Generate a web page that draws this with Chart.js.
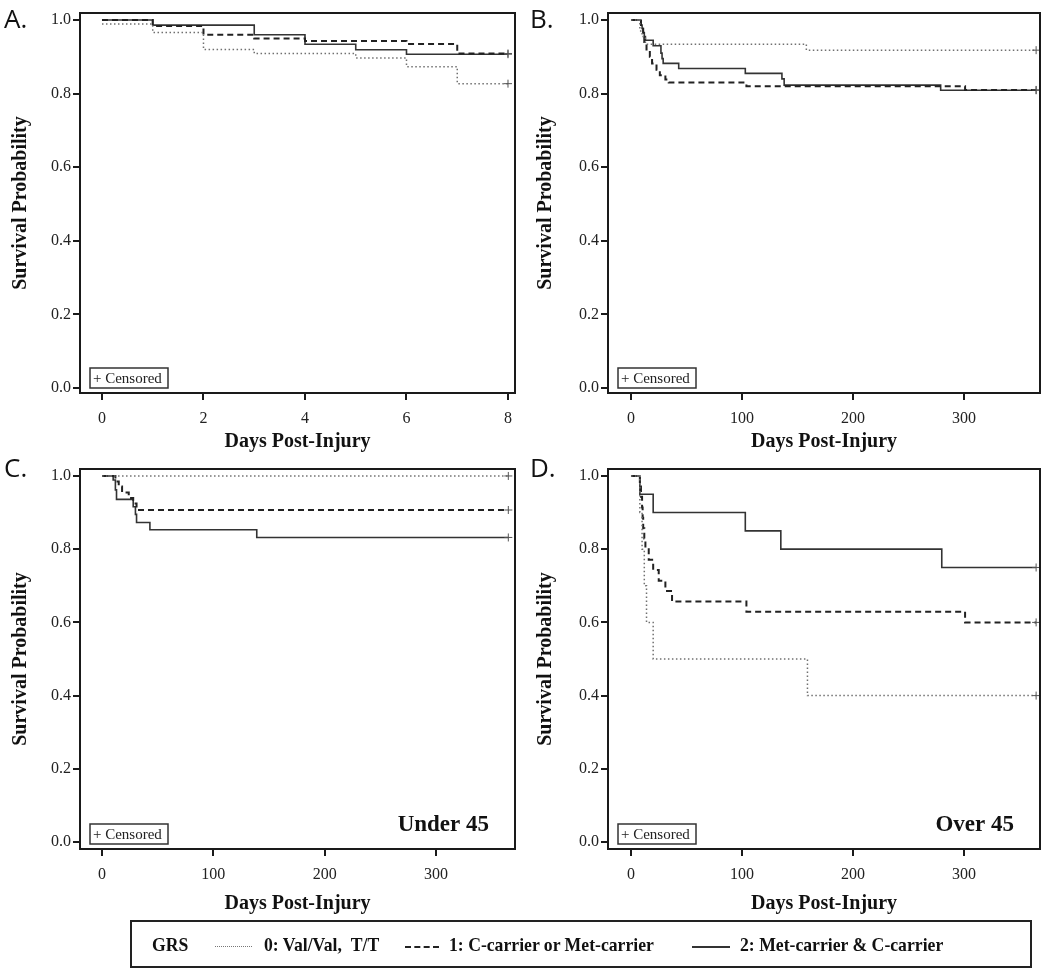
<!DOCTYPE html>
<html>
<head>
<meta charset="utf-8">
<title>Survival by GRS</title>
<script src="https://cdn.jsdelivr.net/npm/chart.js@4.4.1/dist/chart.umd.min.js"></script>
<style>
    body { margin: 0; background: #fff; width: 1050px; height: 973px; position: relative; overflow: hidden; }
    canvas { position: absolute; }
    #legend {
        position: absolute; left: 130px; top: 920px; width: 898px; height: 44px;
        border: 2px solid #222; font: bold 19px "Liberation Serif", serif; color: #111;
    }
    #legend span { position: absolute; top: 12px; white-space: nowrap; transform: scaleX(0.93); transform-origin: left center; }
    #legend i { position: absolute; top: 24px; height: 0; }
</style>
</head>
<body>
<canvas id="panel-a" width="525" height="465" style="left:0;top:0"></canvas>
<canvas id="panel-b" width="525" height="465" style="left:525px;top:0"></canvas>
<canvas id="panel-c" width="525" height="480" style="left:0;top:450px"></canvas>
<canvas id="panel-d" width="525" height="480" style="left:525px;top:450px"></canvas>
<div id="legend"></div>

<script>
/**
 * Группы GRS (легенда внизу).
 */
const GROUP_LABELS = ['0: Val/Val,  T/T', '1: C-carrier or Met-carrier', '2: Met-carrier & C-carrier'];

/**
 * Деления осей.
 */
const Y_TICKS = [0, 0.2, 0.4, 0.6, 0.8, 1.0];
const X_TICKS_SHORT = [0, 2, 4, 6, 8];
const X_TICKS_LONG = [0, 100, 200, 300];

/**
 * Кривые Каплана-Мейера: [день, доля выживших]. Последняя точка - цензурирование (+).
 */
// A. первые 8 дней
const A_GRS0 = [[0, 0.989], [1, 0.966], [2, 0.92], [3, 0.909], [5, 0.897], [6, 0.873], [7, 0.827], [8, 0.827]];
const A_GRS1 = [[0, 1], [1, 0.984], [2, 0.96], [3, 0.95], [4, 0.943], [6, 0.935], [7, 0.909], [8, 0.909]];
const A_GRS2 = [[0, 1], [1, 0.986], [3, 0.96], [4, 0.934], [5, 0.919], [6, 0.907], [8, 0.907]];

// B. весь год
const B_GRS0 = [[0, 1], [8, 0.97], [10, 0.955], [13, 0.934], [158, 0.918], [365, 0.918]];
const B_GRS1 = [[0, 1], [9, 0.98], [11, 0.96], [12, 0.94], [14, 0.92], [17, 0.9], [19, 0.882], [23, 0.865],
    [26, 0.85], [31, 0.838], [34, 0.83], [104, 0.82], [301, 0.81], [365, 0.81]];
const B_GRS2 = [[0, 1], [9, 0.986], [10, 0.977], [11, 0.966], [12, 0.955], [13, 0.945], [20, 0.93], [27, 0.91],
    [28, 0.895], [29, 0.882], [43, 0.868], [103, 0.855], [136, 0.84], [138, 0.823], [279, 0.809], [365, 0.809]];

// C. до 45 лет
const C_GRS0 = [[0, 1], [365, 1]];
const C_GRS1 = [[0, 1], [12, 0.985], [15, 0.971], [18, 0.955], [24, 0.94], [28, 0.925], [31, 0.907], [365, 0.907]];
const C_GRS2 = [[0, 1], [10, 0.989], [12, 0.962], [13, 0.936], [28, 0.916], [30, 0.895], [31, 0.873], [43, 0.853],
    [139, 0.832], [365, 0.832]];

// D. старше 45 лет
const D_GRS0 = [[0, 1], [8, 0.9], [10, 0.8], [12, 0.7], [14, 0.6], [20, 0.5], [159, 0.4], [365, 0.4]];
const D_GRS1 = [[0, 1], [8, 0.971], [9, 0.943], [10, 0.914], [10.5, 0.886], [11, 0.857], [12, 0.829], [13, 0.8],
    [16, 0.771], [20, 0.743], [25, 0.714], [31, 0.686], [37, 0.657], [104, 0.629], [301, 0.6], [365, 0.6]];
const D_GRS2 = [[0, 1], [8, 0.95], [20, 0.9], [103, 0.85], [135, 0.8], [280, 0.75], [365, 0.75]];

/**
 * Стили линий для групп 0/1/2: пунктир точками, штрихи, сплошная.
 */
const LINE_STYLES = [
    { borderColor: '#707070', borderWidth: 1.5, borderDash: [1.5, 2.5] },
    { borderColor: '#222', borderWidth: 2, borderDash: [6, 4] },
    { borderColor: '#333', borderWidth: 1.6, borderDash: [] }
];

const SERIF = '"Liberation Serif", "Times New Roman", serif';

/**
 * Рамка графика, буква панели, подпись "+ Censored" и подпись возрастной группы.
 */
const panelDecor = {
    id: 'panelDecor',
    afterDraw(chart, args, opts) {
        const { ctx, chartArea: a } = chart;
        ctx.save();

        ctx.strokeStyle = '#1a1a1a';
        ctx.lineWidth = 2;
        ctx.strokeRect(a.left, a.top, a.right - a.left, a.bottom - a.top);

        ctx.fillStyle = '#111';
        ctx.textBaseline = 'alphabetic';
        ctx.font = '26px "Open Sans", sans-serif';
        ctx.fillText(opts.letter, opts.letterX, opts.letterY);

        // коробка "+ Censored"
        const bx = a.left + 10, by = a.bottom - 25;
        ctx.lineWidth = 1.5;
        ctx.strokeStyle = '#333';
        ctx.strokeRect(bx, by, 78, 20);
        ctx.font = '15px ' + SERIF;
        ctx.fillStyle = '#222';
        ctx.textBaseline = 'middle';
        ctx.fillText('+ Censored', bx + 3, by + 11);

        if (opts.group) {
            ctx.font = 'bold 23px ' + SERIF;
            ctx.textAlign = 'right';
            ctx.fillStyle = '#111';
            ctx.fillText(opts.group, a.right - 26, a.bottom - 24);
        }
        ctx.restore();
    }
};

/**
 * Строим одну панель.
 */
const makePanel = (canvasId, series, p) => {
    const datasets = series.map((pairs, i) => ({
        label: GROUP_LABELS[i],
        data: pairs.map(([x, y]) => ({ x, y })),
        stepped: true,
        fill: false,
        borderCapStyle: 'butt',
        ...LINE_STYLES[i],
        pointStyle: 'cross',
        pointRadius: (ctx) => ctx.dataIndex === pairs.length - 1 ? 4 : 0,
        pointBorderColor: '#555',
        pointBorderWidth: 1
    }));

    const tickFont = { family: SERIF, size: 16 };
    const titleFont = { family: SERIF, size: 20, weight: 'bold' };

    return new Chart(document.getElementById(canvasId), {
        type: 'line',
        data: { datasets },
        plugins: [panelDecor],
        options: {
            responsive: false,
            animation: false,
            events: [],
            layout: { padding: { top: p.padTop, right: 10, left: 0, bottom: 0 } },
            plugins: {
                legend: { display: false },
                tooltip: { enabled: false },
                panelDecor: { letter: p.letter, letterX: p.letterX, letterY: p.letterY, group: p.group }
            },
            scales: {
                x: {
                    type: 'linear',
                    min: p.xMin,
                    max: p.xMax,
                    afterBuildTicks: (s) => { s.ticks = p.xTicks.map((v) => ({ value: v })); },
                    afterFit: (s) => { s.height = p.xHeight; },
                    border: { display: false },
                    grid: { drawOnChartArea: false, tickLength: 7, color: '#1a1a1a', lineWidth: 2 },
                    ticks: { font: tickFont, color: '#222', padding: 9, maxRotation: 0, autoSkip: false },
                    title: { display: true, text: 'Days Post-Injury', font: titleFont, color: '#111',
                        padding: { top: 0, bottom: p.xTitlePad } }
                },
                y: {
                    type: 'linear',
                    min: p.yMin,
                    max: 1.019,
                    afterBuildTicks: (s) => { s.ticks = Y_TICKS.map((v) => ({ value: v })); },
                    afterFit: (s) => { s.width = p.yWidth; },
                    border: { display: false },
                    grid: { drawOnChartArea: false, tickLength: 7, color: '#1a1a1a', lineWidth: 2 },
                    ticks: { font: tickFont, color: '#222', padding: 2, callback: (v) => v.toFixed(1) },
                    title: { display: true, text: 'Survival Probability', font: titleFont, color: '#111',
                        padding: { top: 9, bottom: 0 } }
                }
            }
        }
    });
};

const buildLegend = () => {
    const legend = document.getElementById('legend');
    const textLeft = [132, 317, 608];
    const sample = [[83, 37], [273, 34], [560, 38]];
    const sampleCss = ['border-top:1.5px dotted #777', 'border-top:2px dashed #222', 'border-top:2px solid #333'];
    let html = '<span style="left:20px">GRS</span>';
    GROUP_LABELS.forEach((label, i) => {
        html += `<i style="left:${sample[i][0]}px;width:${sample[i][1]}px;${sampleCss[i]}"></i>`;
        html += `<span style="left:${textLeft[i]}px">${label.replace(/&/g, '&amp;').replace(/  /g, ' &nbsp;')}</span>`;
    });
    legend.innerHTML = html;
};

const onDOMLoaded = () => {
    makePanel('panel-a', [A_GRS0, A_GRS1, A_GRS2], {
        letter: 'A.', letterX: 4, letterY: 28, padTop: 13, xHeight: 72, xTitlePad: 11, yWidth: 80,
        xMin: -0.433, xMax: 8.138, xTicks: X_TICKS_SHORT, yMin: -0.0136
    });
    makePanel('panel-b', [B_GRS0, B_GRS1, B_GRS2], {
        letter: 'B.', letterX: 5, letterY: 28, padTop: 13, xHeight: 72, xTitlePad: 11, yWidth: 83,
        xMin: -20.7, xMax: 368.5, xTicks: X_TICKS_LONG, yMin: -0.0136
    });
    makePanel('panel-c', [C_GRS0, C_GRS1, C_GRS2], {
        letter: 'C.', letterX: 4, letterY: 27, padTop: 19, xHeight: 81, xTitlePad: 14, yWidth: 80,
        xMin: -19.8, xMax: 371, xTicks: X_TICKS_LONG, yMin: -0.019, group: 'Under 45'
    });
    makePanel('panel-d', [D_GRS0, D_GRS1, D_GRS2], {
        letter: 'D.', letterX: 5, letterY: 27, padTop: 19, xHeight: 81, xTitlePad: 14, yWidth: 83,
        xMin: -20.7, xMax: 368.5, xTicks: X_TICKS_LONG, yMin: -0.019, group: 'Over 45'
    });
    buildLegend();
};

document.addEventListener('DOMContentLoaded', onDOMLoaded);
</script>
</body>
</html>
